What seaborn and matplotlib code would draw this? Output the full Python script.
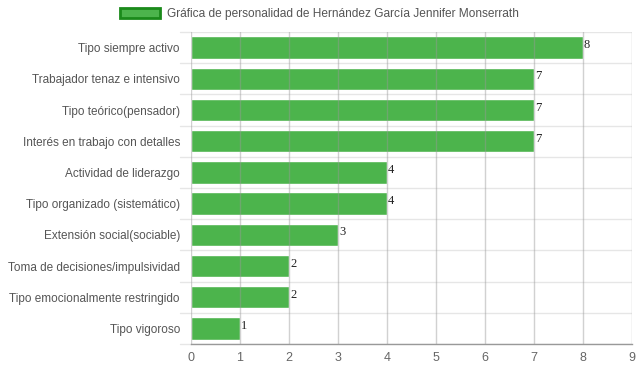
import matplotlib
matplotlib.use("Agg")
import matplotlib.pyplot as plt
import seaborn as sns
import pandas as pd
from matplotlib.patches import Patch

categories = ["Tipo siempre activo", "Trabajador tenaz e intensivo", "Tipo teórico(pensador)",
              "Interés en trabajo con detalles", "Actividad de liderazgo",
              "Tipo organizado (sistemático)", "Extensión social(sociable)",
              "Toma de decisiones/impulsividad", "Tipo emocionalmente restringido", "Tipo vigoroso"]
values = [8, 7, 7, 7, 4, 4, 3, 2, 2, 1]
xticks = [0, 1, 2, 3, 4, 5, 6, 7, 8, 9]
legend_label = "Gráfica de personalidad de Hernández García Jennifer Monserrath"

sns.set_theme(style="white")
plt.rcParams['font.family'] = ['Liberation Sans', 'DejaVu Sans']

df = pd.DataFrame({"cat": categories, "val": values})
fig = plt.figure(figsize=(6.39, 3.72), dpi=100)
ax = fig.add_axes([191/639, 1-344/372, (632-191)/639, (344-32)/372])

bar_color = "#4cb44c"
sns.barplot(data=df, y="cat", x="val", orient="h", color=bar_color, saturation=1,
            width=0.72, ax=ax, zorder=2)

ax.set_xlim(0, 9)
ax.set_ylim(len(categories) - 0.5, -0.5)
ax.set_xticks(xticks)
ax.set_xticklabels([str(t) for t in xticks], fontsize=9, color="#666666")
ax.set_xlabel("")
ax.set_ylabel("")
ax.tick_params(axis="y", labelsize=8.5, labelcolor="#555555", length=0, pad=8)
ax.tick_params(axis="x", length=4, color="#bbbbbb", pad=2)

# vertical grid lines over bars
for t in xticks:
    ax.axvline(t, color="#999999", alpha=0.45, lw=1, zorder=3)
# horizontal separators
for i in range(len(categories) + 1):
    y = i - 0.5
    ax.axhline(y, color="#e6e6e6", lw=1, zorder=1)
    ax.plot([-0.22, 0], [y, y], color="#e6e6e6", lw=1, clip_on=False, zorder=1)

for s in ["top", "right", "left"]:
    ax.spines[s].set_visible(False)
ax.spines["bottom"].set_color("#999999")
ax.spines["bottom"].set_linewidth(1)

for i, v in enumerate(values):
    ax.text(v + 0.02, i - 0.08, str(v), va="center", ha="left", fontsize=9,
            family=["Liberation Serif", "DejaVu Serif"], color="#222222", zorder=4)

handle = Patch(facecolor=bar_color, edgecolor="#1a8a1a", linewidth=2)
fig.legend([handle], [legend_label], loc="center", bbox_to_anchor=(0.5, 1-14/372),
           frameon=False, fontsize=8.6, handlelength=3.4, handleheight=1.0,
           handletextpad=0.6, labelcolor="#555555")

fig.savefig("out.png", dpi=100)
